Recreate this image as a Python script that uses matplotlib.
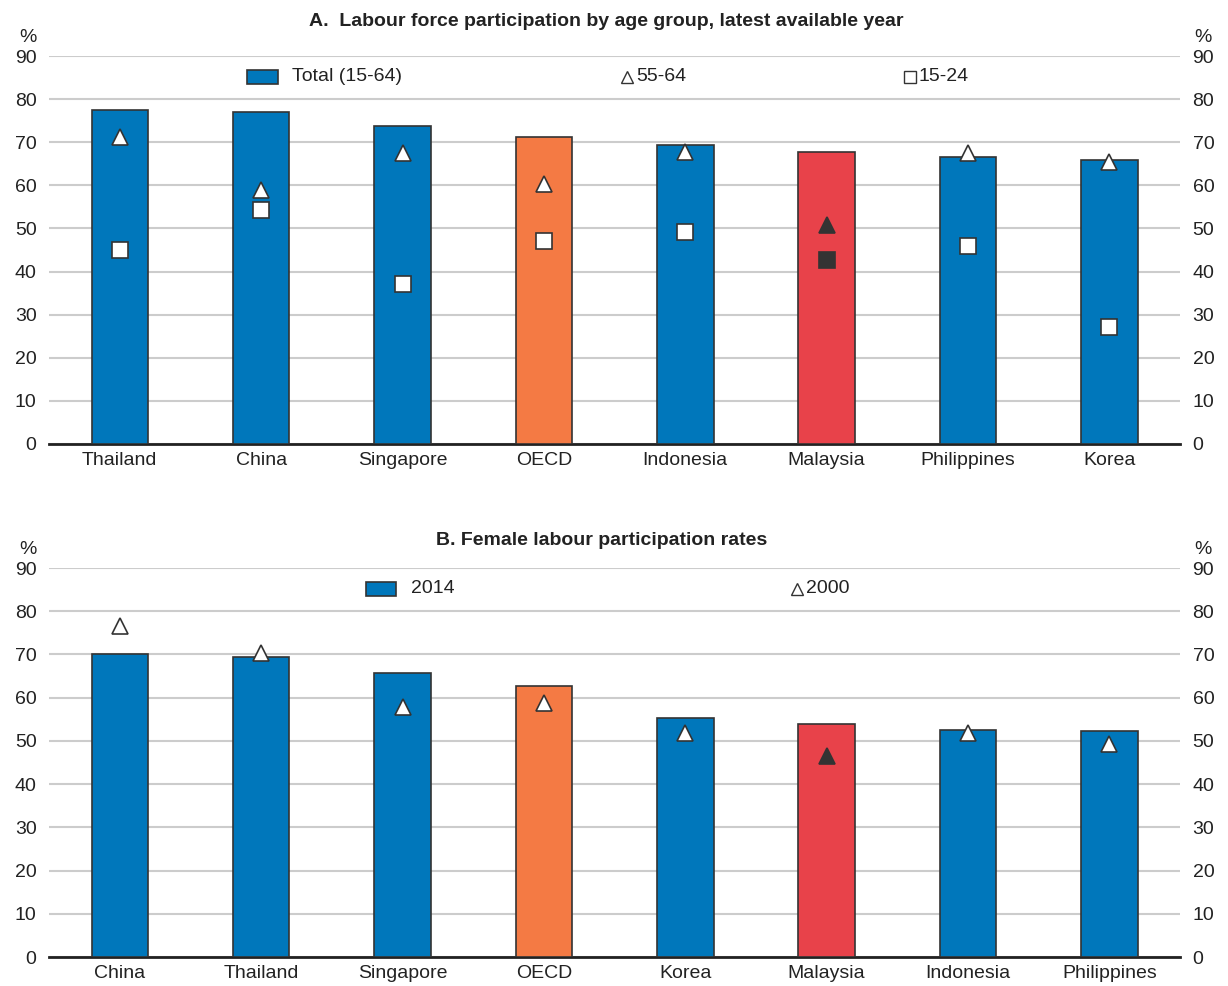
import numpy as np
import matplotlib
matplotlib.use("Agg")
import matplotlib.pyplot as plt
from matplotlib.patches import Rectangle

plt.rcParams['font.family'] = ['Liberation Sans Narrow', 'Liberation Sans', 'DejaVu Sans']

# 面板 A 数据
countries_a = ['Thailand', 'China', 'Singapore', 'OECD', 'Indonesia', 'Malaysia', 'Philippines', 'Korea']
total_a = [77.5, 77.0, 73.8, 71.2, 69.4, 67.7, 66.6, 65.9]
age55_a = [71.2, 59.0, 67.5, 60.3, 67.7, 50.8, 67.5, 65.4]
age15_a = [45.0, 54.3, 37.1, 47.1, 49.2, 42.7, 45.9, 27.1]

# 面板 B 数据
countries_b = ['China', 'Thailand', 'Singapore', 'OECD', 'Korea', 'Malaysia', 'Indonesia', 'Philippines']
female_2014 = [70.1, 69.5, 65.6, 62.6, 55.4, 54.0, 52.6, 52.2]
female_2000 = [76.6, 70.3, 57.9, 58.8, 51.8, 46.6, 51.8, 49.4]

BLUE = '#0077BB'
ORANGE = '#F47A44'
RED = '#E8424A'
EDGE = '#333333'
DARK = '#333333'


def bar_colors(names):
    cols = []
    for n in names:
        if n == 'OECD':
            cols.append(ORANGE)
        elif n == 'Malaysia':
            cols.append(RED)
        else:
            cols.append(BLUE)
    return cols


def style_axes(ax, names):
    x = np.arange(len(names))
    ax.set_xlim(-0.5, len(names) - 0.5)
    ax.set_ylim(0, 90)
    ax.set_yticks(np.arange(0, 91, 10))
    ax.grid(axis='y', color='#CCCCCC', linewidth=1.5)
    ax.set_axisbelow(True)
    for s in ['top', 'left', 'right']:
        ax.spines[s].set_visible(False)
    ax.spines['bottom'].set_color('#222222')
    ax.spines['bottom'].set_linewidth(2)
    ax.set_xticks(x)
    ax.set_xticklabels(names, fontsize=14, color='#222222')
    ax.tick_params(axis='x', length=0, pad=6)
    ax.tick_params(axis='y', length=0, labelsize=14, labelcolor='#222222',
                   labelleft=True, labelright=True, pad=9)
    ax.text(-0.0186, 1.025, '%', transform=ax.transAxes, fontsize=14,
            ha='center', va='bottom', color='#222222')
    ax.text(1.020, 1.025, '%', transform=ax.transAxes, fontsize=14,
            ha='center', va='bottom', color='#222222')


def draw_markers(ax, names, vals, marker, ms):
    for i, (n, v) in enumerate(zip(names, vals)):
        fc = DARK if n == 'Malaysia' else 'white'
        ax.plot(i, v, marker=marker, ms=ms, mfc=fc, mec=EDGE, mew=1.2,
                linestyle='none', zorder=4)


def legend_patch(ax, x, y, label):
    ax.add_patch(Rectangle((x, y - 0.018), 0.027, 0.036, transform=ax.transAxes,
                           facecolor=BLUE, edgecolor=EDGE, linewidth=1.2,
                           clip_on=False, zorder=5))
    ax.text(x + 0.04, y, label, transform=ax.transAxes, fontsize=14,
            va='center', ha='left', color='#222222')


def legend_marker(ax, x, y, marker, label):
    ax.plot(x, y, marker=marker, ms=8, mfc='white', mec=EDGE, mew=1,
            transform=ax.transAxes, clip_on=False, linestyle='none')
    ax.text(x + 0.008, y, label, transform=ax.transAxes, fontsize=14,
            va='center', ha='left', color='#222222')


fig = plt.figure(figsize=(12.28, 9.86), dpi=100)
ax1 = fig.add_axes([0.040, 0.5497, 0.921, 0.3935])
ax2 = fig.add_axes([0.040, 0.0294, 0.921, 0.3945])

# 面板 A
xa = np.arange(len(countries_a))
ax1.bar(xa, total_a, width=0.4, color=bar_colors(countries_a), edgecolor=EDGE,
        linewidth=1.2, zorder=3)
draw_markers(ax1, countries_a, age55_a, '^', 12)
draw_markers(ax1, countries_a, age15_a, 's', 11)
style_axes(ax1, countries_a)
fig.text(0.494, 0.978, 'A.  Labour force participation by age group, latest available year',
         ha='center', va='center', fontsize=14, fontweight='bold', color='#222222')
legend_patch(ax1, 0.175, 0.947, 'Total (15-64)')
legend_marker(ax1, 0.511, 0.947, '^', '55-64')
legend_marker(ax1, 0.761, 0.947, 's', '15-24')

# 面板 B
xb = np.arange(len(countries_b))
ax2.bar(xb, female_2014, width=0.4, color=bar_colors(countries_b), edgecolor=EDGE,
        linewidth=1.2, zorder=3)
draw_markers(ax2, countries_b, female_2000, '^', 12)
style_axes(ax2, countries_b)
fig.text(0.49, 0.452, 'B. Female labour participation rates',
         ha='center', va='center', fontsize=14, fontweight='bold', color='#222222')
legend_patch(ax2, 0.280, 0.947, '2014')
legend_marker(ax2, 0.661, 0.947, '^', '2000')

fig.savefig('out.png', dpi=100)
